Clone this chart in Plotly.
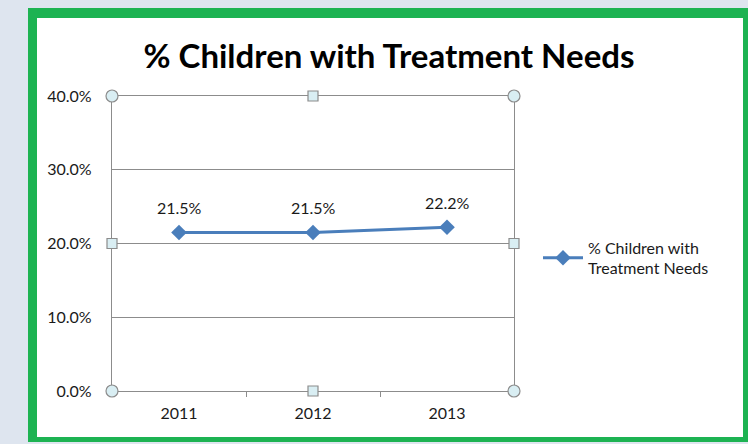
import plotly.graph_objects as go

years = ["2011", "2012", "2013"]
values = [0.215, 0.215, 0.222]
labels = ["21.5%", "21.5%", "22.2%"]
series_name = "% Children with<br>Treatment Needs"
title = "% Children with Treatment Needs"

W, H = 748, 444
L, R, T, B = 112, 514, 96, 391  # plot area in pixels
pw, ph = R - L, B - T

def px(x):
    return (x - L) / pw

def py(y):
    return (B - y) / ph

FONT = "Lato"
TXT = "#1a1a1a"
FS = 16
fig = go.Figure()
fig.add_trace(go.Scatter(
    x=years, y=values, mode="lines+markers", name=series_name,
    line=dict(color="#4a7ebb", width=3),
    marker=dict(symbol="diamond", size=12, color="#4a7ebb"),
))
for i, (yv, t) in enumerate(zip(values, labels)):
    fig.add_annotation(x=i, y=yv, text=t, showarrow=False, yshift=25,
                       font=dict(family=FONT, size=FS, color=TXT))

shapes = []
# green frame and white chart area
shapes.append(dict(type="rect", xref="paper", yref="paper", layer="below",
                   x0=px(28), x1=px(752), y0=py(442), y1=py(8),
                   fillcolor="#1db352", line=dict(width=0)))
shapes.append(dict(type="rect", xref="paper", yref="paper", layer="below",
                   x0=px(37), x1=px(743), y0=py(437), y1=py(18),
                   fillcolor="#ffffff", line=dict(width=0)))
# selection handles
for hx in (0, 0.5, 1):
    for hy in (0, 0.5, 1):
        if hx == 0.5 and hy == 0.5:
            continue
        corner = hx != 0.5 and hy != 0.5
        shapes.append(dict(
            type="circle" if corner else "rect",
            xref="paper", yref="paper", xsizemode="pixel", ysizemode="pixel",
            xanchor=hx, yanchor=hy,
            x0=-6 if corner else -5, x1=6 if corner else 5,
            y0=-6 if corner else -5, y1=6 if corner else 5,
            fillcolor="#d9eef3", line=dict(color="#8c8c8c", width=1.2),
        ))

fig.update_layout(
    width=W, height=H,
    margin=dict(l=L, r=W - R, t=T, b=H - B, pad=0),
    paper_bgcolor="#dee5ef", plot_bgcolor="#ffffff",
    title=dict(text="<b>" + title + "</b>", xref="paper", x=px(389), xanchor="center",
               yref="container", y=1 - 56 / H, yanchor="middle",
               font=dict(family=FONT, size=33, color="#000000")),
    showlegend=True,
    legend=dict(x=px(538), y=py(258), xanchor="left", yanchor="middle",
                bgcolor="rgba(0,0,0,0)", font=dict(family=FONT, size=FS, color=TXT),
                itemwidth=40, tracegroupgap=0),
    shapes=shapes,
    xaxis=dict(type="category", range=[-0.5, 2.5], showgrid=False,
               showline=True, linecolor="#8c8c8c", linewidth=1.2, mirror=True,
               ticks="outside", tickson="boundaries", ticklen=5, tickcolor="#8c8c8c",
               ticklabelstandoff=8,
               tickfont=dict(family=FONT, size=FS, color=TXT), zeroline=False),
    yaxis=dict(range=[0, 0.4], dtick=0.1, tickformat=".1%", showgrid=True,
               gridcolor="#8c8c8c", gridwidth=1, showline=True, linecolor="#8c8c8c",
               linewidth=1.2, mirror=True, ticks="", zeroline=False,
               ticklabelstandoff=16,
               tickfont=dict(family=FONT, size=FS, color=TXT)),
)
fig.write_html("out.html", config={"displayModeBar": False},
               post_script="document.body.style.margin='0';")
